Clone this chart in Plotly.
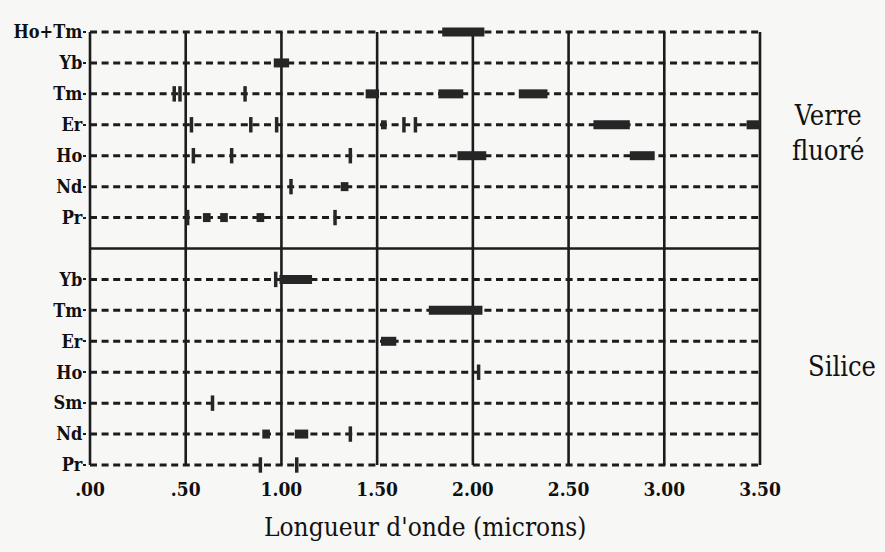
import plotly.graph_objects as go

# ---------------- data ----------------
rows_silice = ["Pr", "Nd", "Sm", "Ho", "Er", "Tm", "Yb"]
rows_fluore = ["Pr", "Nd", "Ho", "Er", "Tm", "Yb", "Ho+Tm"]

# emission bands (start, end) in microns
fluore_bands = {
    "Ho+Tm": [(1.84, 2.06)],
    "Yb": [(0.96, 1.04)],
    "Tm": [(1.44, 1.51), (1.82, 1.95), (2.24, 2.39)],
    "Er": [(1.52, 1.55), (2.63, 2.82), (3.43, 3.50)],
    "Ho": [(1.92, 2.07), (2.82, 2.95)],
    "Nd": [(1.31, 1.35)],
    "Pr": [(0.59, 0.63), (0.68, 0.72), (0.87, 0.91)],
}
# narrow emission lines (microns)
fluore_lines = {
    "Tm": [0.44, 0.47, 0.81],
    "Er": [0.53, 0.84, 0.975, 1.64, 1.70],
    "Ho": [0.54, 0.74, 1.36],
    "Nd": [1.05],
    "Pr": [0.51, 1.28],
}
silice_bands = {
    "Yb": [(0.99, 1.16)],
    "Tm": [(1.77, 2.05)],
    "Er": [(1.52, 1.60)],
    "Nd": [(0.90, 0.94), (1.07, 1.14)],
}
silice_lines = {
    "Yb": [0.97],
    "Ho": [2.03],
    "Sm": [0.64],
    "Nd": [1.36],
    "Pr": [0.89, 1.08],
}

x_ticks = [0.0, 0.5, 1.0, 1.5, 2.0, 2.5, 3.0, 3.5]
x_ticktext = [".00", ".50", "1.00", "1.50", "2.00", "2.50", "3.00", "3.50"]
x_title = "Longueur d'onde (microns)"
group_labels = ["Verre<br>fluoré", "Silice"]

# ---------------- layout helpers ----------------
W, H = 885, 552
ML, MR, MT, MB = 87, 122, 27, 82
X0PX, X1PX = 90, 760      # pixel of x=0 and x=3.5
YTOPPX, YBOTPX = 32, 465  # pixel of top row and bottom row
n_rows = len(rows_silice) + 1 + len(rows_fluore)  # positions 0..14
ymax_row = n_rows - 1
PW, PH = W - ML - MR, H - MT - MB

pxu_x = (X1PX - X0PX) / (x_ticks[-1] - x_ticks[0])
xr = [x_ticks[0] - (X0PX - ML) / pxu_x, x_ticks[-1] + (W - MR - X1PX) / pxu_x]
pxu_y = (YBOTPX - YTOPPX) / ymax_row
yr = [-(H - MB - YBOTPX) / pxu_y, ymax_row + (YTOPPX - MT) / pxu_y]

ypos = {}
for i, r in enumerate(rows_silice):
    ypos[("s", r)] = i
sep_y = len(rows_silice)
for i, r in enumerate(rows_fluore):
    ypos[("f", r)] = sep_y + 1 + i

INK = "#1c1c1c"
fig = go.Figure()

# dashed row lines
dx, dy = [], []
for key, y in ypos.items():
    dx += [x_ticks[0], x_ticks[-1], None]
    dy += [y, y, None]
fig.add_trace(go.Scatter(x=dx, y=dy, mode="lines",
                         line=dict(color=INK, width=3, dash="7px,4.6px"),
                         hoverinfo="skip", showlegend=False))

# vertical solid lines
vx, vy = [], []
for xv in x_ticks:
    vx += [xv, xv, None]
    vy += [0, ymax_row, None]
fig.add_trace(go.Scatter(x=vx, y=vy, mode="lines",
                         line=dict(color=INK, width=2.6),
                         hoverinfo="skip", showlegend=False))

# separator
fig.add_trace(go.Scatter(x=[x_ticks[0], x_ticks[-1]], y=[sep_y, sep_y], mode="lines",
                         line=dict(color=INK, width=2.4),
                         hoverinfo="skip", showlegend=False))

# bands
bx, by = [], []
for grp, bands in (("f", fluore_bands), ("s", silice_bands)):
    for r, segs in bands.items():
        for a, b in segs:
            bx += [a, b, None]
            by += [ypos[(grp, r)], ypos[(grp, r)], None]
fig.add_trace(go.Scatter(x=bx, y=by, mode="lines",
                         line=dict(color="#262626", width=9),
                         hoverinfo="skip", showlegend=False))

# narrow lines
lx, ly = [], []
for grp, lines in (("f", fluore_lines), ("s", silice_lines)):
    for r, xs in lines.items():
        for xv in xs:
            lx.append(xv)
            ly.append(ypos[(grp, r)])
fig.add_trace(go.Scatter(x=lx, y=ly, mode="markers", cliponaxis=False,
                         marker=dict(symbol="line-ns", size=11,
                                     line=dict(color="#262626", width=3.5)),
                         hoverinfo="skip", showlegend=False))

LABEL_FONT = "DejaVu Serif Condensed, DejaVu Serif, serif"

tickvals = [ypos[k] for k in ypos]
ticktext = [k[1] for k in ypos]

fig.update_layout(
    width=W, height=H,
    margin=dict(l=ML, r=MR, t=MT, b=MB, pad=0),
    paper_bgcolor="#f7f7f6", plot_bgcolor="rgba(0,0,0,0)",
    xaxis=dict(range=xr, showgrid=False, zeroline=False, showline=False,
               tickmode="array", tickvals=x_ticks, ticktext=x_ticktext,
               ticks="outside", ticklen=2, tickcolor="rgba(0,0,0,0)",
               tickfont=dict(family=LABEL_FONT, size=19, color="#111", weight="bold")),
    yaxis=dict(range=yr, showgrid=False, zeroline=False, showline=False,
               tickmode="array", tickvals=tickvals, ticktext=ticktext,
               ticks="outside", ticklen=3, tickwidth=2, tickcolor=INK,
               ticklabelstandoff=-3,
               tickfont=dict(family=LABEL_FONT, size=18, color="#111", weight="bold")),
)

# axis title
fig.add_annotation(x=0.5, y=-57 / PH, xref="paper", yref="paper",
                   text=x_title, showarrow=False, xanchor="center", yanchor="middle",
                   font=dict(family=LABEL_FONT, size=26, color="#111"))

# group labels (paper coordinates, right of the plot area)
fig.add_annotation(x=(828 - ML) / PW, y=(H - MB - 133) / PH, xref="paper", yref="paper",
                   text=group_labels[0], showarrow=False,
                   xanchor="center", yanchor="middle",
                   font=dict(family=LABEL_FONT, size=27, color="#111"))
fig.add_annotation(x=(842 - ML) / PW, y=(H - MB - 366) / PH, xref="paper", yref="paper",
                   text=group_labels[1], showarrow=False,
                   xanchor="center", yanchor="middle",
                   font=dict(family=LABEL_FONT, size=27, color="#111"))

fig.write_html("out.html")
